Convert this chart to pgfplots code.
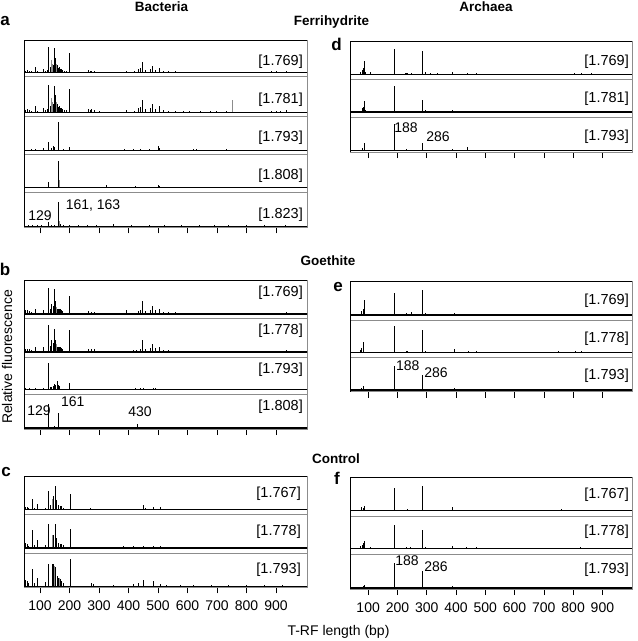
\documentclass[border=0pt]{standalone}
\usepackage{fontspec}
\setmainfont{Liberation Sans}
\usepackage{pgfplots}
\pgfplotsset{compat=1.18}
\newcommand\fs[1]{\fontsize{#1}{#1}\selectfont}
\pgfplotsset{
 strip/.style={scale only axis, anchor=north west, xtick=\empty, ytick=\empty, axis line style={black!45, line width=0.6pt}},
 L/.style={width=283pt, xmin=46, xmax=1005},
 R/.style={width=282pt, xmin=38, xmax=1001},
 bot/.style={xtick={100,200,300,400,500,600,700,800,900}, xtick pos=left, xtick align=outside, major tick length=6pt, xticklabels={}, major tick style={black, line width=0.6pt}},
 botlab/.style={xtick={100,200,300,400,500,600,700,800,900}, xtick pos=left, xtick align=outside, major tick length=6pt, major tick style={black, line width=0.6pt}, xticklabels={100,200,300,400,500,600,700,800,900}, xticklabel style={font=\fs{14}, inner sep=0pt, yshift=-7.5pt}},
 pk/.style={ycomb, black, line width=0.7pt, mark=none},
 pg/.style={ycomb, black!45, line width=0.7pt, mark=none},
 base/.style={black, line width=1.1pt, mark=none},
 noisy/.style={black, line width=1.6pt, mark=none},
}
\newcommand\lab{\fs{14.5}}
\newcommand\nlab{\fs{14}}
\begin{document}
\begin{tikzpicture}
\useasboundingbox (0,0) rectangle (638pt,-641pt);
% ================= panel a =================
\begin{axis}[strip, L, at={(24pt,-40pt)}, height=36.7pt, ymin=-4, ymax=32.7]
\addplot[pg] coordinates {(139,13)(142,9)(156,9)};
\addplot[pk] coordinates {(52,2)(57,3)(64,2)(72,1.5)(85,6)(92,1.5)(111,4)(118,2)(124,3)(129,26)(134,6)(145,8)(150,25)(153,15)(159,8)(162,5)(165,6)(170,4)(173,4)(177,3)(183,2)(188,2)(201,20)(264,3)(270,2)(275,2)(286,2)(300,1)(394,2)(420,1.5)(433,4)(439,5)(448,11)(456,3)(473,4)(482,7)(490,3)(505,5)(518,2)(535,1.5)(558,1.5)(586,1)(608,1)(642,1)(676,1)(699,1)(733,1)(885,1.5)(902,1.5)(913,1)(936,1.5)};
\addplot[base] coordinates {(0,0)(1100,0)};
\end{axis}
\begin{axis}[strip, L, at={(24pt,-76.7pt)}, height=39.3pt, ymin=-3.7, ymax=35.6]
\addplot[pg] coordinates {(139,14)(142,10)(156,10)(753,12)};
\addplot[pk] coordinates {(52,2)(57,3)(64,2)(72,1.5)(85,6)(92,1.5)(111,4)(118,2)(124,3)(129,27)(134,6)(145,8)(150,26)(153,17)(159,8)(162,5)(165,6)(170,4)(173,4)(177,3)(183,2)(188,2)(201,23)(264,3)(270,2)(275,3)(286,2)(300,1)(394,2)(420,1.5)(433,4)(439,5)(448,12)(456,3)(473,4)(482,8)(490,3)(505,6)(518,2)(535,1.5)(558,1.5)(586,1)(608,1)(642,1)(676,1)(699,1)(733,1)(885,1.5)(902,1.5)(913,1.5)(936,2)};
\addplot[base] coordinates {(0,0)(1100,0)};
\end{axis}
\begin{axis}[strip, L, at={(24pt,-116pt)}, height=38.3pt, ymin=-4, ymax=34.3]
\addplot[pg] coordinates {(164,20)};
\addplot[pk] coordinates {(72,1)(85,1)(111,2)(129,8)(140,2)(147,4)(150,3)(161,28)(163,27)(180,1)(201,3)(385,1)(415,1.5)(440,1)(470,1)(501,4)(505,2)(620,1.5)(630,1)(733,1)};
\addplot[base] coordinates {(0,0)(1100,0)};
\end{axis}
\begin{axis}[strip, L, at={(24pt,-154.3pt)}, height=38.4pt, ymin=-5, ymax=33.4]
\addplot[pg] coordinates {(165,8)};
\addplot[pk] coordinates {(129,6)(161,27)(163,26)(326,3)(422,1.5)(501,3)(503,2)(620,1)(733,1)};
\addplot[base] coordinates {(0,0)(1100,0)};
\end{axis}
\begin{axis}[strip, L, bot, at={(24pt,-192.7pt)}, height=34.6pt, ymin=-1, ymax=33.6]
\addplot[pg] coordinates {(165,5)};
\addplot[pk] coordinates {(60,1)(75,1.5)(92,1)(105,1)(129,4)(140,1.5)(150,1.5)(161,24)(163,15)(170,2)(180,1)(198,1.5)(230,1)(260,1)(290,1)(350,2)(410,1)(470,1)(520,1)(580,1)(640,1)(690,1)(740,1)(800,1)(860,1)(930,1)};
\addplot[noisy] coordinates {(0,0)(1100,0)};
\end{axis}
% ================= panel b =================
\begin{axis}[strip, L, at={(24pt,-280pt)}, height=38.5pt, ymin=-4.5, ymax=34]
\addplot[pg] coordinates {(140,8)(156,7)};
\addplot[pk] coordinates {(52,4)(57,4)(64,3)(72,2)(85,5)(111,4)(129,26)(134,5)(140,10)(145,8)(150,25)(153,13)(159,5)(162,5)(165,5)(170,5)(173,4)(177,3)(201,18)(264,3)(275,2)(286,2)(394,4)(433,3)(439,4)(448,13)(456,3)(473,4)(482,8)(490,4)(505,5)(518,2)(535,2)(558,2)(586,1)(608,1)(642,1)(676,1)(812,1)(885,1)(902,1.5)(913,1)(936,2)};
\addplot[base] coordinates {(0,0)(1100,0)};
\end{axis}
\begin{axis}[strip, L, at={(24pt,-318.5pt)}, height=38.5pt, ymin=-5, ymax=33.5]
\addplot[pg] coordinates {(140,9)(156,8)};
\addplot[pk] coordinates {(52,3)(57,3)(64,3)(72,2)(85,5)(111,5)(129,27)(134,6)(140,12)(145,9)(150,23)(153,12)(159,5)(162,5)(165,5)(170,5)(173,4)(177,3)(201,22)(264,3)(275,3)(286,3)(394,1)(416,2)(428,2)(439,3)(448,12)(456,3)(473,4)(482,8)(490,4)(505,5)(518,2)(535,2)(558,1.5)(586,1.5)(608,1)(642,1.5)(676,1)(767,1)(885,1)(902,1.5)(913,1.5)(936,2)};
\addplot[base] coordinates {(0,0)(1100,0)};
\end{axis}
\begin{axis}[strip, L, at={(24pt,-357pt)}, height=37.5pt, ymin=-5, ymax=32.5]
\addplot[pk] coordinates {(52,2)(64,1.5)(85,2)(111,2)(129,27)(134,3)(140,3)(145,4)(150,6)(153,5)(159,9)(162,5)(165,4)(201,7)(264,1)(292,1)(348,1)(422,2)(439,1.5)(450,2)(484,1.5)(490,1.5)(505,1)(530,1)(558,1)(586,1)(648,1)(682,1)(925,1)(936,1)};
\addplot[base] coordinates {(0,0)(1100,0)};
\end{axis}
\begin{axis}[strip, L, bot, at={(24pt,-394.5pt)}, height=34.5pt, ymin=-1, ymax=33.5]
\addplot[pk] coordinates {(47,2)(129,24)(140,1.5)(150,2)(161,15)(170,1)(201,1)(360,1)(430,4)(460,1)(510,1)};
\addplot[base] coordinates {(0,0)(1100,0)};
\end{axis}
% ================= panel c =================
\begin{axis}[strip, L, at={(24pt,-476pt)}, height=38.5pt, ymin=-5, ymax=33.5]
\addplot[pg] coordinates {(142,11)(157,8)};
\addplot[pk] coordinates {(52,3)(57,3)(62,2)(74,11)(80,2)(91,6)(117,2)(128,19)(134,5)(145,14)(153,24)(156,10)(162,5)(168,4)(173,4)(180,2)(202,16)(224,1)(270,1.5)(281,1)(343,1)(383,1)(420,1)(450,5)(456,2)(484,3)(509,3)(529,1)(560,1)(600,1)(650,1)(700,1)(760,1)(820,1)(880,1)(940,1)};
\addplot[noisy] coordinates {(0,0)(1100,0)};
\end{axis}
\begin{axis}[strip, L, at={(24pt,-514.5pt)}, height=38.5pt, ymin=-5, ymax=33.5]
\addplot[pg] coordinates {(142,13)(157,9)};
\addplot[pk] coordinates {(52,5)(57,4)(62,2)(74,18)(80,3)(91,8)(117,3)(128,24)(145,13)(153,24)(156,10)(162,5)(168,4)(173,4)(179,3)(202,19)(275,1)(382,2)(416,2)(450,2)(484,2)(509,2)(578,1)(678,1)(836,1.5)};
\addplot[base] coordinates {(0,0)(1100,0)};
\end{axis}
\begin{axis}[strip, L, botlab, at={(24pt,-553pt)}, height=34.3pt, ymin=-1, ymax=33.3]
\addplot[pg] coordinates {(150,20)(165,8)};
\addplot[pk] coordinates {(52,6)(57,5)(62,3)(74,17)(80,3)(91,8)(117,4)(128,22)(142,22)(147,22)(153,19)(159,10)(162,8)(168,7)(173,5)(179,3)(202,27)(275,3)(281,2)(350,1)(416,2)(433,3)(450,6)(484,5)(509,2)(529,1.5)(575,1)(620,1)(680,1)(740,1)(800,1)(860,1)(920,1)};
\addplot[noisy] coordinates {(0,0)(1100,0)};
\end{axis}
% ================= panel d =================
\begin{axis}[strip, R, at={(350pt,-41.3pt)}, height=38.4pt, ymin=-5, ymax=33.4]
\addplot[pg] coordinates {(284,16)};
\addplot[pk] coordinates {(75,3)(81,5)(84,7)(86,14)(91,3)(109,3)(149,1)(166,1)(188,26)(226,2)(230,2)(235,2)(246,1.5)(286,24)(296,3)(312,2)(335,1.5)(389,3)(440,2)(469,2)(492,1)(691,1)(720,1)(748,1)(803,2)(828,1.5)(863,1.5)};
\addplot[base] coordinates {(0,0)(1100,0)};
\end{axis}
\begin{axis}[strip, R, at={(350pt,-79.7pt)}, height=37.3pt, ymin=-5, ymax=32.3]
\addplot[pk] coordinates {(80,4)(84,5)(86,11)(90,2)(109,1)(149,1)(188,26)(230,1.5)(262,1)(286,12)(296,2)(312,1)(330,1)(350,1)(370,1)(389,2.5)(440,1.5)(469,1.5)(492,1)(545,1)(691,1)(748,1)(803,1.5)(828,1.5)(863,1)};
\addplot[base] coordinates {(0,0)(1100,0)};
\end{axis}
\begin{axis}[strip, R, bot, at={(350pt,-117pt)}, height=35pt, ymin=-1.3, ymax=33.7]
\addplot[pk] coordinates {(80,3)(86,8)(149,1)(188,27)(230,1.5)(286,8)(296,1)(312,1)(350,1)(380,1)(389,2)(440,4)(469,1)(748,1)(803,1)(863,1)};
\addplot[base] coordinates {(0,0)(1100,0)};
\end{axis}
% ================= panel e =================
\begin{axis}[strip, R, at={(350pt,-281pt)}, height=39.3pt, ymin=-5.3, ymax=34]
\addplot[pk] coordinates {(78,4)(82,6)(86,15)(100,1)(188,22)(230,2)(247,3)(286,25)(295,2)(336,1)(393,2)(441,1)(469,1)(669,0.7)(806,0.7)};
\addplot[base] coordinates {(0,0)(1100,0)};
\end{axis}
\begin{axis}[strip, R, at={(350pt,-320.3pt)}, height=37.4pt, ymin=-5, ymax=32.4]
\addplot[pk] coordinates {(73,3)(78,5)(82,8)(85,11)(100,1)(188,27)(230,2)(234,1.5)(247,1)(286,23)(295,2)(313,1)(336,1)(352,1)(393,4)(441,1.5)(469,1.5)(492,1)(692,1)(749,1.5)(753,1)(806,1.5)(829,1.5)(863,1)};
\addplot[base] coordinates {(0,0)(1100,0)};
\end{axis}
\begin{axis}[strip, R, bot, at={(350pt,-357.7pt)}, height=33.8pt, ymin=-1.5, ymax=32.3]
\addplot[pk] coordinates {(77,2)(82,3)(85,4)(150,1)(188,24)(230,1)(247,1)(286,15)(295,1)(393,2)(441,1.5)};
\addplot[base] coordinates {(0,0)(1100,0)};
\end{axis}
% ================= panel f =================
\begin{axis}[strip, R, at={(350pt,-477.7pt)}, height=39pt, ymin=-6.4, ymax=32.6]
\addplot[pk] coordinates {(77,3)(82,2)(86,4)(188,22)(233,1)(286,24)(389,3)(450,0.7)(520,0.7)(600,0.7)(680,0.7)(760,1)(840,0.7)(920,0.7)};
\addplot[noisy] coordinates {(0,0)(1100,0)};
\end{axis}
\begin{axis}[strip, R, at={(350pt,-516.7pt)}, height=37.6pt, ymin=-5.6, ymax=32]
\addplot[pk] coordinates {(74,3)(80,4)(84,6)(86,8)(108,2)(188,24)(230,2)(244,2)(286,19)(295,2)(335,1)(389,3)(437,1.5)(468,1.5)(693,1)(750,1)(801,1)(824,1.5)};
\addplot[base] coordinates {(0,0)(1100,0)};
\end{axis}
\begin{axis}[strip, R, botlab, at={(350pt,-554.3pt)}, height=34.7pt, ymin=-1.3, ymax=33.4]
\addplot[pk] coordinates {(82,2)(86,3)(109,1)(188,25)(286,17)(389,2)(450,0.7)(600,0.7)(761,1)(800,0.7)};
\addplot[noisy] coordinates {(0,0)(1100,0)};
\end{axis}
% ================= frames =================
\draw[black, line width=0.8pt] (24pt,-227.3pt) -- (24pt,-40pt) -- (307pt,-40pt);
\draw[black, line width=0.8pt] (24pt,-429pt) -- (24pt,-280pt) -- (307pt,-280pt);
\draw[black, line width=0.8pt] (24pt,-587.3pt) -- (24pt,-476pt) -- (307pt,-476pt);
\draw[black, line width=0.8pt] (350pt,-152pt) -- (350pt,-41.3pt) -- (632pt,-41.3pt);
\draw[black, line width=0.8pt] (350pt,-391.5pt) -- (350pt,-281pt) -- (632pt,-281pt);
\draw[black, line width=0.8pt] (350pt,-589pt) -- (350pt,-477.7pt) -- (632pt,-477.7pt);
% ================= texts =================
\begin{scope}[every node/.style={inner sep=0pt}]
\node[font=\bfseries\fs{13.5}, anchor=base] at (161.5pt,-11.7pt) {Bacteria};
\node[font=\bfseries\fs{13.5}, anchor=base] at (486pt,-11.7pt) {Archaea};
\node[font=\bfseries\fs{13.5}, anchor=base] at (331.5pt,-25.7pt) {Ferrihydrite};
\node[font=\bfseries\fs{13.5}, anchor=base] at (328pt,-265pt) {Goethite};
\node[font=\bfseries\fs{13.5}, anchor=base] at (336pt,-463pt) {Control};
\node[font=\bfseries\fs{17}, anchor=base] at (5pt,-25pt) {a};
\node[font=\bfseries\fs{17}, anchor=base] at (5pt,-275pt) {b};
\node[font=\bfseries\fs{17}, anchor=base] at (6pt,-476.7pt) {c};
\node[font=\bfseries\fs{17}, anchor=base] at (336.5pt,-50pt) {d};
\node[font=\bfseries\fs{17}, anchor=base] at (338pt,-291.7pt) {e};
\node[font=\bfseries\fs{17}, anchor=base] at (337pt,-484pt) {f};
\node[font=\fs{14}, rotate=90] at (7pt,-357pt) {Relative fluorescence};
\node[font=\fs{14}] at (338.5pt,-632pt) {T-RF length (bp)};
\begin{scope}[every node/.append style={font=\lab, anchor=east}]
\node at (303pt,-62pt) {[1.769]};
\node at (303pt,-99.3pt) {[1.781]};
\node at (303pt,-137.7pt) {[1.793]};
\node at (303pt,-176pt) {[1.808]};
\node at (303pt,-214.3pt) {[1.823]};
\node at (303pt,-292.7pt) {[1.769]};
\node at (303pt,-331pt) {[1.778]};
\node at (303pt,-369.3pt) {[1.793]};
\node at (303pt,-406.7pt) {[1.808]};
\node at (301pt,-493.7pt) {[1.767]};
\node at (301pt,-532pt) {[1.778]};
\node at (301pt,-569.3pt) {[1.793]};
\node at (629pt,-61.3pt) {[1.769]};
\node at (629pt,-99pt) {[1.781]};
\node at (629pt,-136.7pt) {[1.793]};
\node at (629pt,-301pt) {[1.769]};
\node at (629pt,-338.7pt) {[1.778]};
\node at (629pt,-376pt) {[1.793]};
\node at (629pt,-494.3pt) {[1.767]};
\node at (629pt,-532pt) {[1.778]};
\node at (629pt,-570pt) {[1.793]};
\end{scope}
\begin{scope}[every node/.append style={font=\nlab}]
\node at (40pt,-216pt) {129};
\node at (93pt,-205.3pt) {161, 163};
\node at (39pt,-411pt) {129};
\node at (72.7pt,-401.7pt) {161};
\node at (140pt,-411.7pt) {430};
\node at (406pt,-127.3pt) {188};
\node at (438pt,-136.3pt) {286};
\node at (407.7pt,-365.3pt) {188};
\node at (436pt,-372.7pt) {286};
\node at (407pt,-560.3pt) {188};
\node at (436pt,-567pt) {286};
\end{scope}
\end{scope}
\end{tikzpicture}
\end{document}
